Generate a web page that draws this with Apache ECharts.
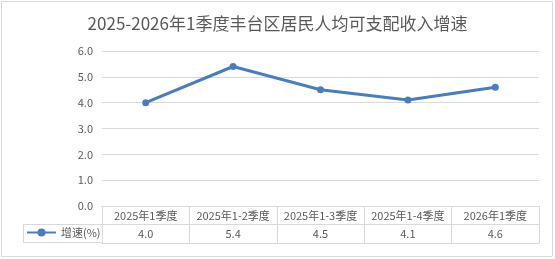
<!DOCTYPE html>
<html>
<head>
<meta charset="utf-8">
<script src="https://cdn.jsdelivr.net/npm/echarts@6/dist/echarts.min.js"></script>
<style>
  html, body { margin: 0; padding: 0; background: #fff; }
  #chart { width: 555px; height: 259px; }
</style>
</head>
<body>
<div id="chart"></div>
<script>
const titleText = '2025-2026年1季度丰台区居民人均可支配收入增速';
const categories = ['2025年1季度', '2025年1-2季度', '2025年1-3季度', '2025年1-4季度', '2026年1季度'];
const seriesName = '增速(%)';
const growth = [4.0, 5.4, 4.5, 4.1, 4.6];
const yTicks = [0, 6, 1]; // min, max, interval

const font = '"Noto Sans CJK SC", "Noto Sans", sans-serif';
const textColor = '#595959';
const lineColor = '#d9d9d9';
const blue = '#4a7ebb';

const chart = echarts.init(document.getElementById('chart'), null, { renderer: 'canvas' });

chart.setOption({
  animation: false,
  textStyle: { fontFamily: font },
  title: {
    text: titleText,
    left: 'center',
    top: 10,
    textStyle: { fontSize: 17, fontWeight: 'normal', color: textColor, fontFamily: font }
  },
  grid: { left: 102, right: 16, top: 51, bottom: 53 },
  legend: {
    left: 26,
    top: 227,
    padding: 0,
    itemWidth: 29,
    itemHeight: 10,
    itemGap: 0,
    textStyle: { fontSize: 11, color: textColor },
    data: [seriesName]
  },
  xAxis: [
    {
      type: 'category',
      data: categories,
      position: 'bottom',
      axisLine: { show: true, lineStyle: { color: lineColor } },
      axisTick: { show: true, length: 37, interval: 0, lineStyle: { color: lineColor } },
      axisLabel: { interval: 0, margin: 4, fontSize: 11, color: textColor }
    },
    {
      type: 'category',
      data: categories,
      position: 'bottom',
      offset: 18.5,
      axisLine: { show: true, lineStyle: { color: lineColor } },
      axisTick: { show: false },
      axisLabel: {
        interval: 0, margin: 4, fontSize: 11, color: textColor,
        formatter: (v, i) => growth[i].toFixed(1)
      }
    },
    {
      type: 'category',
      data: categories,
      position: 'bottom',
      offset: 37,
      axisLine: { show: true, lineStyle: { color: lineColor } },
      axisTick: { show: false },
      axisLabel: { show: false }
    }
  ],
  yAxis: {
    type: 'value',
    min: yTicks[0],
    max: yTicks[1],
    interval: yTicks[2],
    axisLine: { show: false },
    axisTick: { show: false },
    axisLabel: { margin: 9, fontSize: 11, color: textColor, formatter: v => v.toFixed(1) },
    splitLine: { lineStyle: { color: lineColor } }
  },
  series: [{
    name: seriesName,
    type: 'line',
    data: growth,
    symbol: 'circle',
    symbolSize: 7,
    lineStyle: { width: 3, color: blue },
    itemStyle: { color: blue }
  }],
  graphic: [
    { type: 'rect', shape: { x: 1.5, y: 1.5, width: 551, height: 255 }, style: { fill: 'none', stroke: lineColor, lineWidth: 1 }, silent: true },
    { type: 'line', shape: { x1: 23, y1: 224.5, x2: 102, y2: 224.5 }, style: { stroke: lineColor, lineWidth: 1 }, silent: true },
    { type: 'line', shape: { x1: 23, y1: 242.5, x2: 102, y2: 242.5 }, style: { stroke: lineColor, lineWidth: 1 }, silent: true },
    { type: 'line', shape: { x1: 23.5, y1: 224, x2: 23.5, y2: 243 }, style: { stroke: lineColor, lineWidth: 1 }, silent: true }
  ]
});
</script>
</body>
</html>
